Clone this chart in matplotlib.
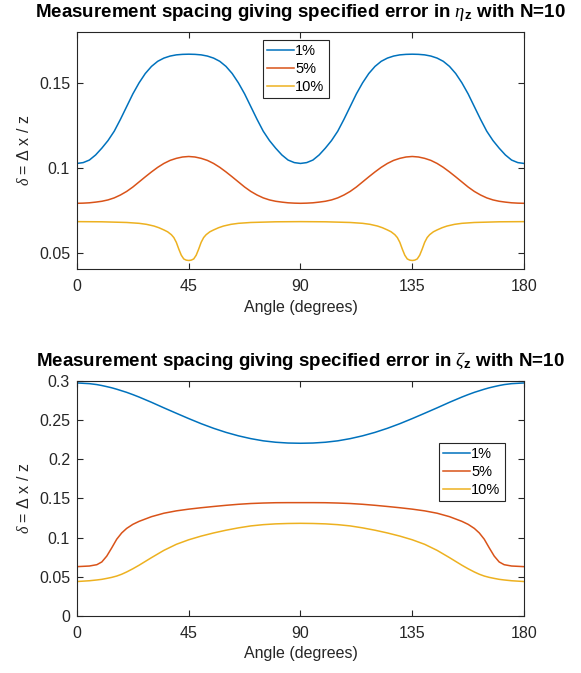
import matplotlib
matplotlib.use("Agg")
import matplotlib.pyplot as plt
from matplotlib.ticker import FuncFormatter

plt.rcParams['font.family'] = ['Liberation Sans', 'DejaVu Sans']
plt.rcParams['mathtext.fontset'] = 'custom'
plt.rcParams['mathtext.rm'] = 'Liberation Sans'
plt.rcParams['mathtext.it'] = 'Liberation Serif:italic'
plt.rcParams['mathtext.bf'] = 'Liberation Sans:bold'

colors = ['#0072BD', '#D95319', '#EDB120']
labels = ['1%', '5%', '10%']
xticks = [0, 45, 90, 135, 180]

# ---- top panel (eta_z), values every 2.5 degrees ----
ang_eta = [0, 2.5, 5, 7.5, 10, 12.5, 15, 17.5, 20, 22.5, 25, 27.5, 30, 32.5, 35, 37.5, 40, 42.5,
           45, 47.5, 50, 52.5, 55, 57.5, 60, 62.5, 65, 67.5, 70, 72.5, 75, 77.5, 80, 82.5, 85, 87.5,
           90, 92.5, 95, 97.5, 100, 102.5, 105, 107.5, 110, 112.5, 115, 117.5, 120, 122.5, 125, 127.5, 130, 132.5,
           135, 137.5, 140, 142.5, 145, 147.5, 150, 152.5, 155, 157.5, 160, 162.5, 165, 167.5, 170, 172.5, 175, 177.5,
           180]
eta_1 = [0.1025, 0.1030, 0.1045, 0.1075, 0.1115, 0.1160, 0.1215, 0.1285, 0.1360, 0.1435, 0.1500, 0.1555,
         0.1597, 0.1627, 0.1646, 0.1658, 0.1665, 0.1668,
         0.1669, 0.1668, 0.1665, 0.1658, 0.1646, 0.1627, 0.1597, 0.1555, 0.1500, 0.1435, 0.1360, 0.1285,
         0.1215, 0.1160, 0.1115, 0.1075, 0.1045, 0.1030,
         0.1025, 0.1030, 0.1045, 0.1075, 0.1115, 0.1160, 0.1215, 0.1285, 0.1360, 0.1435, 0.1500, 0.1555,
         0.1597, 0.1627, 0.1646, 0.1658, 0.1665, 0.1668,
         0.1669, 0.1668, 0.1665, 0.1658, 0.1646, 0.1627, 0.1597, 0.1555, 0.1500, 0.1435, 0.1360, 0.1285,
         0.1215, 0.1160, 0.1115, 0.1075, 0.1045, 0.1030,
         0.1025]
eta_5 = [0.0790, 0.0791, 0.0793, 0.0797, 0.0802, 0.0810, 0.0822, 0.0839, 0.0860, 0.0886, 0.0916, 0.0946,
         0.0975, 0.1002, 0.1025, 0.1043, 0.1055, 0.1063,
         0.1066, 0.1063, 0.1055, 0.1043, 0.1025, 0.1002, 0.0975, 0.0946, 0.0916, 0.0886, 0.0860, 0.0839,
         0.0822, 0.0810, 0.0802, 0.0797, 0.0793, 0.0791,
         0.0790, 0.0791, 0.0793, 0.0797, 0.0802, 0.0810, 0.0822, 0.0839, 0.0860, 0.0886, 0.0916, 0.0946,
         0.0975, 0.1002, 0.1025, 0.1043, 0.1055, 0.1063,
         0.1066, 0.1063, 0.1055, 0.1043, 0.1025, 0.1002, 0.0975, 0.0946, 0.0916, 0.0886, 0.0860, 0.0839,
         0.0822, 0.0810, 0.0802, 0.0797, 0.0793, 0.0791,
         0.0790]

ang_eta10 = [0, 10, 20, 25, 28, 31, 33, 35, 36.5, 38, 39, 40, 41, 42, 43, 44, 45, 46, 47, 48, 49, 50,
             51, 52, 53.5, 55, 57, 59, 62, 65, 70, 80, 90,
             100, 110, 115, 118, 121, 123, 125, 126.5, 128, 129, 130, 131, 132, 133, 134, 135, 136, 137,
             138, 139, 140, 141, 142, 143.5, 145, 147, 149, 152, 155, 160, 170, 180]
eta_10 = [0.0682, 0.0681, 0.0677, 0.0672, 0.0666, 0.0656, 0.0646, 0.0633, 0.0622, 0.0605, 0.0588, 0.0560,
          0.0520, 0.0484, 0.0462, 0.0455, 0.0453, 0.0455, 0.0462, 0.0484, 0.0520, 0.0560,
          0.0588, 0.0605, 0.0622, 0.0633, 0.0646, 0.0656, 0.0666, 0.0672, 0.0677, 0.0681, 0.0682,
          0.0681, 0.0677, 0.0672, 0.0666, 0.0656, 0.0646, 0.0633, 0.0622, 0.0605, 0.0588, 0.0560,
          0.0520, 0.0484, 0.0462, 0.0455, 0.0453, 0.0455, 0.0462, 0.0484, 0.0520, 0.0560,
          0.0588, 0.0605, 0.0622, 0.0633, 0.0646, 0.0656, 0.0666, 0.0672, 0.0677, 0.0681, 0.0682]

# ---- bottom panel (zeta_z) ----
ang_zeta = [0, 5, 8, 10, 12, 14, 16, 18, 20, 22.5, 25, 30, 35, 40, 45, 50, 55, 60, 65, 70, 75, 80, 85, 90,
            95, 100, 105, 110, 115, 120, 125, 130, 135, 140, 145, 150, 155, 157.5, 160, 162, 164, 166, 168,
            170, 172, 175, 180]
zeta_1 = [0.2975, 0.2966, 0.2954, 0.2942, 0.2928, 0.2913, 0.2895, 0.2875, 0.2855, 0.2826, 0.2795, 0.2728,
          0.2657, 0.2588, 0.2520, 0.2455, 0.2396, 0.2344, 0.2300, 0.2264, 0.2236, 0.2218, 0.2208, 0.2205,
          0.2208, 0.2218, 0.2236, 0.2264, 0.2300, 0.2344, 0.2396, 0.2455, 0.2520, 0.2588, 0.2657, 0.2728,
          0.2795, 0.2826, 0.2855, 0.2875, 0.2895, 0.2913, 0.2928, 0.2942, 0.2954, 0.2966, 0.2975]
zeta_5 = [0.0630, 0.0638, 0.0655, 0.0690, 0.0765, 0.0870, 0.0980, 0.1060, 0.1118, 0.1170, 0.1208, 0.1268,
          0.1312, 0.1342, 0.1364, 0.1382, 0.1398, 0.1413, 0.1426, 0.1436, 0.1442, 0.1446, 0.1447, 0.1447,
          0.1447, 0.1446, 0.1442, 0.1436, 0.1426, 0.1413, 0.1398, 0.1382, 0.1364, 0.1342, 0.1312, 0.1268,
          0.1208, 0.1170, 0.1118, 0.1060, 0.0980, 0.0870, 0.0765, 0.0690, 0.0655, 0.0638, 0.0630]
zeta_10 = [0.0440, 0.0450, 0.0460, 0.0468, 0.0480, 0.0493, 0.0510, 0.0533, 0.0562, 0.0603, 0.0648, 0.0745,
           0.0838, 0.0915, 0.0973, 0.1020, 0.1060, 0.1095, 0.1125, 0.1150, 0.1166, 0.1176, 0.1181, 0.1183,
           0.1181, 0.1176, 0.1166, 0.1150, 0.1125, 0.1095, 0.1060, 0.1020, 0.0973, 0.0915, 0.0838, 0.0745,
           0.0648, 0.0603, 0.0562, 0.0533, 0.0510, 0.0493, 0.0480, 0.0468, 0.0460, 0.0450, 0.0440]

fig = plt.figure(figsize=(5.81, 6.73), dpi=100)
ax1 = fig.add_axes([0.1325, 0.5996, 0.7694, 0.3529])
ax2 = fig.add_axes([0.1325, 0.0847, 0.7694, 0.3492])

ax1.plot(ang_eta, eta_1, color=colors[0], lw=1.1, label=labels[0])
ax1.plot(ang_eta, eta_5, color=colors[1], lw=1.1, label=labels[1])
ax1.plot(ang_eta10, eta_10, color=colors[2], lw=1.1, label=labels[2])
ax1.set_ylim(0.04, 0.18)
ax1.set_yticks([0.05, 0.1, 0.15])
ax1.set_title(r'Measurement spacing giving specified error in $\eta_\mathbf{z}$ with N=10',
              fontsize=13.5, fontweight='bold', pad=11)

ax2.plot(ang_zeta, zeta_1, color=colors[0], lw=1.1, label=labels[0])
ax2.plot(ang_zeta, zeta_5, color=colors[1], lw=1.1, label=labels[1])
ax2.plot(ang_zeta, zeta_10, color=colors[2], lw=1.1, label=labels[2])
ax2.set_ylim(0, 0.3)
ax2.set_yticks([0, 0.05, 0.1, 0.15, 0.2, 0.25, 0.3])
ax2.set_title(r'Measurement spacing giving specified error in $\zeta_\mathbf{z}$ with N=10',
              fontsize=13.5, fontweight='bold', pad=11)

for ax, anchor in [(ax1, (0.416, 0.966)), (ax2, (0.81, 0.736))]:
    ax.set_xlim(0, 180)
    ax.set_xticks(xticks)
    ax.yaxis.set_major_formatter(FuncFormatter(lambda v, p: '%g' % round(v, 4)))
    ax.set_xlabel('Angle (degrees)', fontsize=11.5, color='#262626', labelpad=4)
    ax.set_ylabel(r'$\delta$ = $\Delta$ x / z', fontsize=11.5, color='#262626', labelpad=5)
    ax.tick_params(direction='in', top=True, right=True, length=4, width=0.8,
                   labelsize=11.5, colors='#262626')
    ax.tick_params(axis='x', pad=7)
    ax.tick_params(axis='y', pad=5)
    for s in ax.spines.values():
        s.set_color('#262626')
        s.set_linewidth(0.8)
    leg = ax.legend(loc='upper left', bbox_to_anchor=anchor, fontsize=10.5,
                    handlelength=1.8, handletextpad=0.1, borderpad=0.3,
                    labelspacing=0.25, borderaxespad=0, fancybox=False,
                    framealpha=1, edgecolor='#262626')
    leg.get_frame().set_linewidth(0.8)

fig.savefig('out.png', dpi=100)
